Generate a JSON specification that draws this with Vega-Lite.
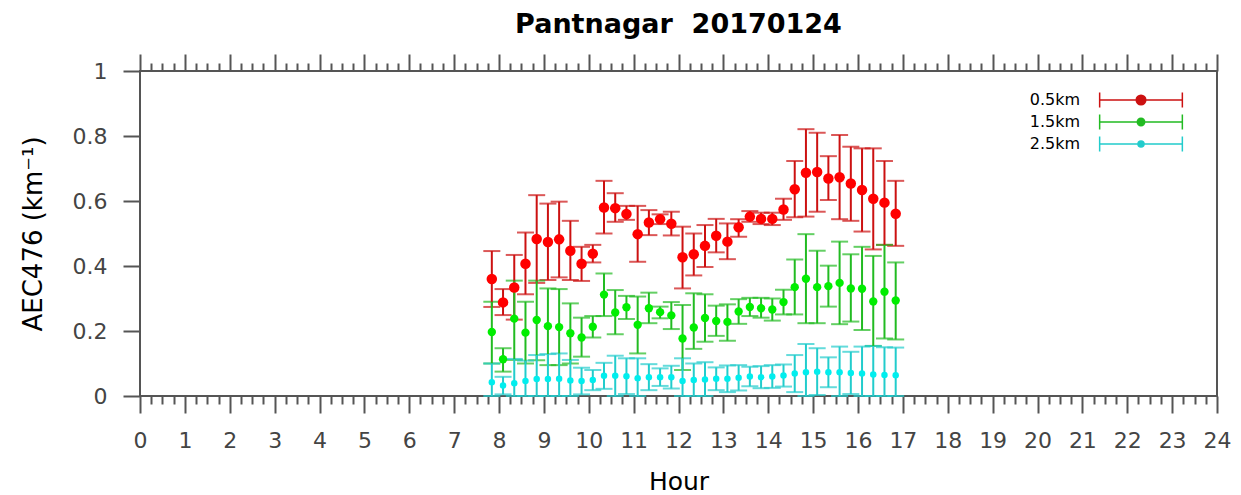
{
  "$schema": "https://vega.github.io/schema/vega-lite/v6.json",
  "width": 1077,
  "height": 325,
  "autosize": {"type": "none"},
  "padding": {"left": 140, "top": 71, "right": 24, "bottom": 99},
  "background": "white",
  "title": {"text": "Pantnagar\u00a0 20170124", "font": "DejaVu Sans", "fontSize": 27, "fontWeight": "bold", "color": "black", "anchor": "middle", "frame": "group", "offset": 14},
  "config": {"view": {"stroke": "#555555", "strokeWidth": 2}, "font": "DejaVu Sans"},
  "datasets": {
    "aec": [
      {"h":7.84,"s":"0.5km","v":0.36,"lo":0.274,"hi":0.446},
      {"h":8.09,"s":"0.5km","v":0.288,"lo":0.249,"hi":0.329},
      {"h":8.34,"s":"0.5km","v":0.334,"lo":0.235,"hi":0.434},
      {"h":8.59,"s":"0.5km","v":0.407,"lo":0.313,"hi":0.503},
      {"h":8.84,"s":"0.5km","v":0.483,"lo":0.348,"hi":0.618},
      {"h":9.09,"s":"0.5km","v":0.474,"lo":0.357,"hi":0.592},
      {"h":9.34,"s":"0.5km","v":0.482,"lo":0.365,"hi":0.598},
      {"h":9.59,"s":"0.5km","v":0.447,"lo":0.357,"hi":0.539},
      {"h":9.84,"s":"0.5km","v":0.407,"lo":0.354,"hi":0.459},
      {"h":10.09,"s":"0.5km","v":0.438,"lo":0.411,"hi":0.465},
      {"h":10.34,"s":"0.5km","v":0.58,"lo":0.5,"hi":0.662},
      {"h":10.59,"s":"0.5km","v":0.578,"lo":0.536,"hi":0.624},
      {"h":10.84,"s":"0.5km","v":0.56,"lo":0.542,"hi":0.585},
      {"h":11.09,"s":"0.5km","v":0.498,"lo":0.413,"hi":0.585},
      {"h":11.34,"s":"0.5km","v":0.534,"lo":0.495,"hi":0.572},
      {"h":11.59,"s":"0.5km","v":0.544,"lo":0.529,"hi":0.559},
      {"h":11.84,"s":"0.5km","v":0.53,"lo":0.494,"hi":0.567},
      {"h":12.09,"s":"0.5km","v":0.427,"lo":0.331,"hi":0.521},
      {"h":12.34,"s":"0.5km","v":0.436,"lo":0.371,"hi":0.5},
      {"h":12.59,"s":"0.5km","v":0.462,"lo":0.397,"hi":0.526},
      {"h":12.84,"s":"0.5km","v":0.493,"lo":0.442,"hi":0.545},
      {"h":13.09,"s":"0.5km","v":0.475,"lo":0.421,"hi":0.531},
      {"h":13.34,"s":"0.5km","v":0.519,"lo":0.49,"hi":0.544},
      {"h":13.59,"s":"0.5km","v":0.552,"lo":0.536,"hi":0.569},
      {"h":13.84,"s":"0.5km","v":0.545,"lo":0.529,"hi":0.564},
      {"h":14.09,"s":"0.5km","v":0.545,"lo":0.526,"hi":0.564},
      {"h":14.34,"s":"0.5km","v":0.574,"lo":0.542,"hi":0.607},
      {"h":14.59,"s":"0.5km","v":0.636,"lo":0.55,"hi":0.723},
      {"h":14.84,"s":"0.5km","v":0.687,"lo":0.552,"hi":0.821},
      {"h":15.09,"s":"0.5km","v":0.689,"lo":0.567,"hi":0.81},
      {"h":15.34,"s":"0.5km","v":0.669,"lo":0.603,"hi":0.738},
      {"h":15.59,"s":"0.5km","v":0.673,"lo":0.544,"hi":0.803},
      {"h":15.84,"s":"0.5km","v":0.654,"lo":0.539,"hi":0.767},
      {"h":16.09,"s":"0.5km","v":0.634,"lo":0.506,"hi":0.762},
      {"h":16.34,"s":"0.5km","v":0.607,"lo":0.451,"hi":0.762},
      {"h":16.59,"s":"0.5km","v":0.595,"lo":0.465,"hi":0.723},
      {"h":16.84,"s":"0.5km","v":0.561,"lo":0.462,"hi":0.662},
      {"h":7.84,"s":"1.5km","v":0.197,"lo":0.1,"hi":0.29},
      {"h":8.09,"s":"1.5km","v":0.113,"lo":0.075,"hi":0.147},
      {"h":8.34,"s":"1.5km","v":0.238,"lo":0.111,"hi":0.355},
      {"h":8.59,"s":"1.5km","v":0.195,"lo":0.1,"hi":0.29},
      {"h":8.84,"s":"1.5km","v":0.234,"lo":0.11,"hi":0.355},
      {"h":9.09,"s":"1.5km","v":0.215,"lo":0.095,"hi":0.331},
      {"h":9.34,"s":"1.5km","v":0.212,"lo":0.095,"hi":0.329},
      {"h":9.59,"s":"1.5km","v":0.193,"lo":0.1,"hi":0.285},
      {"h":9.84,"s":"1.5km","v":0.18,"lo":0.121,"hi":0.241},
      {"h":10.09,"s":"1.5km","v":0.213,"lo":0.18,"hi":0.246},
      {"h":10.34,"s":"1.5km","v":0.312,"lo":0.246,"hi":0.377},
      {"h":10.59,"s":"1.5km","v":0.257,"lo":0.19,"hi":0.326},
      {"h":10.84,"s":"1.5km","v":0.273,"lo":0.237,"hi":0.308},
      {"h":11.09,"s":"1.5km","v":0.219,"lo":0.131,"hi":0.306},
      {"h":11.34,"s":"1.5km","v":0.27,"lo":0.224,"hi":0.318},
      {"h":11.59,"s":"1.5km","v":0.258,"lo":0.239,"hi":0.275},
      {"h":11.84,"s":"1.5km","v":0.248,"lo":0.206,"hi":0.289},
      {"h":12.09,"s":"1.5km","v":0.177,"lo":0.08,"hi":0.28},
      {"h":12.34,"s":"1.5km","v":0.211,"lo":0.145,"hi":0.316},
      {"h":12.59,"s":"1.5km","v":0.24,"lo":0.167,"hi":0.313},
      {"h":12.84,"s":"1.5km","v":0.231,"lo":0.185,"hi":0.278},
      {"h":13.09,"s":"1.5km","v":0.228,"lo":0.17,"hi":0.282},
      {"h":13.34,"s":"1.5km","v":0.26,"lo":0.222,"hi":0.298},
      {"h":13.59,"s":"1.5km","v":0.274,"lo":0.246,"hi":0.302},
      {"h":13.84,"s":"1.5km","v":0.27,"lo":0.241,"hi":0.302},
      {"h":14.09,"s":"1.5km","v":0.266,"lo":0.232,"hi":0.3},
      {"h":14.34,"s":"1.5km","v":0.289,"lo":0.251,"hi":0.327},
      {"h":14.59,"s":"1.5km","v":0.335,"lo":0.251,"hi":0.42},
      {"h":14.84,"s":"1.5km","v":0.361,"lo":0.224,"hi":0.498},
      {"h":15.09,"s":"1.5km","v":0.335,"lo":0.224,"hi":0.447},
      {"h":15.34,"s":"1.5km","v":0.338,"lo":0.275,"hi":0.401},
      {"h":15.59,"s":"1.5km","v":0.348,"lo":0.221,"hi":0.475},
      {"h":15.84,"s":"1.5km","v":0.331,"lo":0.229,"hi":0.436},
      {"h":16.09,"s":"1.5km","v":0.33,"lo":0.203,"hi":0.459},
      {"h":16.34,"s":"1.5km","v":0.291,"lo":0.154,"hi":0.431},
      {"h":16.59,"s":"1.5km","v":0.321,"lo":0.177,"hi":0.465},
      {"h":16.84,"s":"1.5km","v":0.294,"lo":0.174,"hi":0.411},
      {"h":7.84,"s":"2.5km","v":0.042,"lo":-0.016,"hi":0.1},
      {"h":8.09,"s":"2.5km","v":0.032,"lo":0.005,"hi":0.059},
      {"h":8.34,"s":"2.5km","v":0.039,"lo":-0.036,"hi":0.114},
      {"h":8.59,"s":"2.5km","v":0.046,"lo":-0.017,"hi":0.109},
      {"h":8.84,"s":"2.5km","v":0.052,"lo":-0.022,"hi":0.126},
      {"h":9.09,"s":"2.5km","v":0.052,"lo":-0.025,"hi":0.129},
      {"h":9.34,"s":"2.5km","v":0.053,"lo":-0.025,"hi":0.131},
      {"h":9.59,"s":"2.5km","v":0.048,"lo":-0.015,"hi":0.111},
      {"h":9.84,"s":"2.5km","v":0.046,"lo":0.005,"hi":0.087},
      {"h":10.09,"s":"2.5km","v":0.049,"lo":0.018,"hi":0.08},
      {"h":10.34,"s":"2.5km","v":0.062,"lo":0.022,"hi":0.102},
      {"h":10.59,"s":"2.5km","v":0.062,"lo":0.0,"hi":0.124},
      {"h":10.84,"s":"2.5km","v":0.061,"lo":0.006,"hi":0.116},
      {"h":11.09,"s":"2.5km","v":0.055,"lo":-0.006,"hi":0.116},
      {"h":11.34,"s":"2.5km","v":0.058,"lo":0.018,"hi":0.098},
      {"h":11.59,"s":"2.5km","v":0.058,"lo":0.031,"hi":0.085},
      {"h":11.84,"s":"2.5km","v":0.058,"lo":0.023,"hi":0.093},
      {"h":12.09,"s":"2.5km","v":0.046,"lo":-0.024,"hi":0.116},
      {"h":12.34,"s":"2.5km","v":0.049,"lo":-0.002,"hi":0.1},
      {"h":12.59,"s":"2.5km","v":0.051,"lo":-0.002,"hi":0.104},
      {"h":12.84,"s":"2.5km","v":0.053,"lo":0.018,"hi":0.088},
      {"h":13.09,"s":"2.5km","v":0.053,"lo":0.012,"hi":0.094},
      {"h":13.34,"s":"2.5km","v":0.056,"lo":0.017,"hi":0.095},
      {"h":13.59,"s":"2.5km","v":0.06,"lo":0.03,"hi":0.09},
      {"h":13.84,"s":"2.5km","v":0.058,"lo":0.024,"hi":0.092},
      {"h":14.09,"s":"2.5km","v":0.06,"lo":0.025,"hi":0.095},
      {"h":14.34,"s":"2.5km","v":0.063,"lo":0.029,"hi":0.097},
      {"h":14.59,"s":"2.5km","v":0.069,"lo":0.012,"hi":0.126},
      {"h":14.84,"s":"2.5km","v":0.073,"lo":-0.014,"hi":0.16},
      {"h":15.09,"s":"2.5km","v":0.075,"lo":0.003,"hi":0.147},
      {"h":15.34,"s":"2.5km","v":0.073,"lo":0.027,"hi":0.119},
      {"h":15.59,"s":"2.5km","v":0.073,"lo":-0.006,"hi":0.152},
      {"h":15.84,"s":"2.5km","v":0.071,"lo":0.006,"hi":0.136},
      {"h":16.09,"s":"2.5km","v":0.069,"lo":-0.014,"hi":0.152},
      {"h":16.34,"s":"2.5km","v":0.066,"lo":-0.022,"hi":0.154},
      {"h":16.59,"s":"2.5km","v":0.065,"lo":-0.02,"hi":0.15},
      {"h":16.84,"s":"2.5km","v":0.064,"lo":-0.021,"hi":0.149}
    ]
  },
  "data": {"name": "aec"},
  "layer": [
    {
      "mark": {"type": "errorbar", "ticks": {"size": 17}, "thickness": 2},
      "encoding": {
        "x": {
          "field": "h", "type": "quantitative",
          "scale": {"domain": [0, 24], "nice": false, "zero": false},
          "axis": {
            "orient": "bottom",
            "values": [0,0.25,0.5,0.75,1,1.25,1.5,1.75,2,2.25,2.5,2.75,3,3.25,3.5,3.75,4,4.25,4.5,4.75,5,5.25,5.5,5.75,6,6.25,6.5,6.75,7,7.25,7.5,7.75,8,8.25,8.5,8.75,9,9.25,9.5,9.75,10,10.25,10.5,10.75,11,11.25,11.5,11.75,12,12.25,12.5,12.75,13,13.25,13.5,13.75,14,14.25,14.5,14.75,15,15.25,15.5,15.75,16,16.25,16.5,16.75,17,17.25,17.5,17.75,18,18.25,18.5,18.75,19,19.25,19.5,19.75,20,20.25,20.5,20.75,21,21.25,21.5,21.75,22,22.25,22.5,22.75,23,23.25,23.5,23.75,24],
            "domain": false, "grid": false,
            "tickSize": {"expr": "datum.value % 1 === 0 ? 17 : 8"}, "tickWidth": 2, "tickColor": "#555555",
            "labelExpr": "datum.value % 1 === 0 ? format(datum.value, 'd') : ''",
            "labelFont": "DejaVu Sans", "labelFontSize": 22, "labelColor": "#444444",
            "labelPadding": 17, "labelFlush": false, "labelOverlap": false, "labelBound": false,
            "title": "Hour", "titleFont": "DejaVu Sans", "titleFontSize": 25, "titleFontWeight": "normal", "titleColor": "black", "titlePadding": 18
          }
        },
        "y": {
          "field": "lo", "type": "quantitative",
          "scale": {"domain": [0, 1], "nice": false, "clamp": true},
          "axis": {
            "values": [0, 0.2, 0.4, 0.6, 0.8, 1],
            "domain": false, "grid": false,
            "tickSize": 17, "tickWidth": 2, "tickColor": "#555555",
            "labelExpr": "datum.value === 0 ? '0' : datum.value === 1 ? '1' : format(datum.value, '.1f')",
            "labelFont": "DejaVu Sans", "labelFontSize": 22, "labelColor": "#444444", "labelPadding": 16,
            "title": "AEC476 (km⁻¹)", "titleFont": "DejaVu Sans", "titleFontSize": 26, "titleFontWeight": "normal", "titleColor": "black", "titlePadding": 26
          }
        },
        "y2": {"field": "hi"},
        "color": {
          "field": "s", "type": "nominal",
          "scale": {"domain": ["0.5km", "1.5km", "2.5km"], "range": ["#cc1111", "#22bb22", "#22cccc"]},
          "legend": {
            "orient": "none", "legendX": 993, "legendY": 21, "title": null, "padding": 0,
            "symbolStrokeWidth": 1.5, "rowPadding": 0,
            "labelAlign": "right", "labelOffset": -69, "labelFont": "DejaVu Sans", "labelFontSize": 16, "labelColor": "black",
            "encode": {"symbols": {"update": {
              "shape": {"signal": "datum.value === '0.5km' ? 'M-8.27,0H8.27M-8.27,-1.5V1.5M8.27,-1.5V1.5M0.96,0A0.96,0.96,0,1,1,-0.96,0A0.96,0.96,0,1,1,0.96,0Z' : datum.value === '1.5km' ? 'M-8.27,0H8.27M-8.27,-1.5V1.5M8.27,-1.5V1.5M0.74,0A0.74,0.74,0,1,1,-0.74,0A0.74,0.74,0,1,1,0.74,0Z' : 'M-8.27,0H8.27M-8.27,-1.5V1.5M8.27,-1.5V1.5M0.6,0A0.6,0.6,0,1,1,-0.6,0A0.6,0.6,0,1,1,0.6,0Z'"},
              "stroke": {"scale": "color", "field": "value"},
              "fill": {"scale": "fill", "field": "value"},
              "strokeWidth": {"value": 1.5},
              "opacity": {"value": 1}
            }}}
          }
        }
      }
    },
    {
      "mark": {"type": "point", "filled": true, "opacity": 1, "strokeWidth": 0},
      "encoding": {
        "x": {
          "field": "h", "type": "quantitative",
          "axis": {
            "orient": "top",
            "values": [0,0.25,0.5,0.75,1,1.25,1.5,1.75,2,2.25,2.5,2.75,3,3.25,3.5,3.75,4,4.25,4.5,4.75,5,5.25,5.5,5.75,6,6.25,6.5,6.75,7,7.25,7.5,7.75,8,8.25,8.5,8.75,9,9.25,9.5,9.75,10,10.25,10.5,10.75,11,11.25,11.5,11.75,12,12.25,12.5,12.75,13,13.25,13.5,13.75,14,14.25,14.5,14.75,15,15.25,15.5,15.75,16,16.25,16.5,16.75,17,17.25,17.5,17.75,18,18.25,18.5,18.75,19,19.25,19.5,19.75,20,20.25,20.5,20.75,21,21.25,21.5,21.75,22,22.25,22.5,22.75,23,23.25,23.5,23.75,24],
            "domain": false, "grid": false, "labels": false, "title": null,
            "tickSize": {"expr": "datum.value % 1 === 0 ? 17 : 8"}, "tickWidth": 2, "tickColor": "#555555"
          }
        },
        "y": {
          "field": "v", "type": "quantitative",
          "axis": {
            "values": [0, 0.2, 0.4, 0.6, 0.8, 1],
            "domain": false, "grid": false,
            "tickSize": 17, "tickWidth": 2, "tickColor": "#555555",
            "labelExpr": "datum.value === 0 ? '0' : datum.value === 1 ? '1' : format(datum.value, '.1f')",
            "labelFont": "DejaVu Sans", "labelFontSize": 22, "labelColor": "#444444", "labelPadding": 16,
            "title": "AEC476 (km⁻¹)", "titleFont": "DejaVu Sans", "titleFontSize": 26, "titleFontWeight": "normal", "titleColor": "black", "titlePadding": 26
          }
        },
        "fill": {
          "field": "s", "type": "nominal",
          "scale": {"domain": ["0.5km", "1.5km", "2.5km"], "range": ["#ff0000", "#00ee00", "#00eeee"]},
          "legend": null
        },
        "size": {
          "condition": [
            {"test": "datum.s === '0.5km'", "value": 110},
            {"test": "datum.s === '1.5km'", "value": 70}
          ],
          "value": 42
        }
      }
    }
  ],
  "resolve": {"axis": {"x": "independent"}}
}
